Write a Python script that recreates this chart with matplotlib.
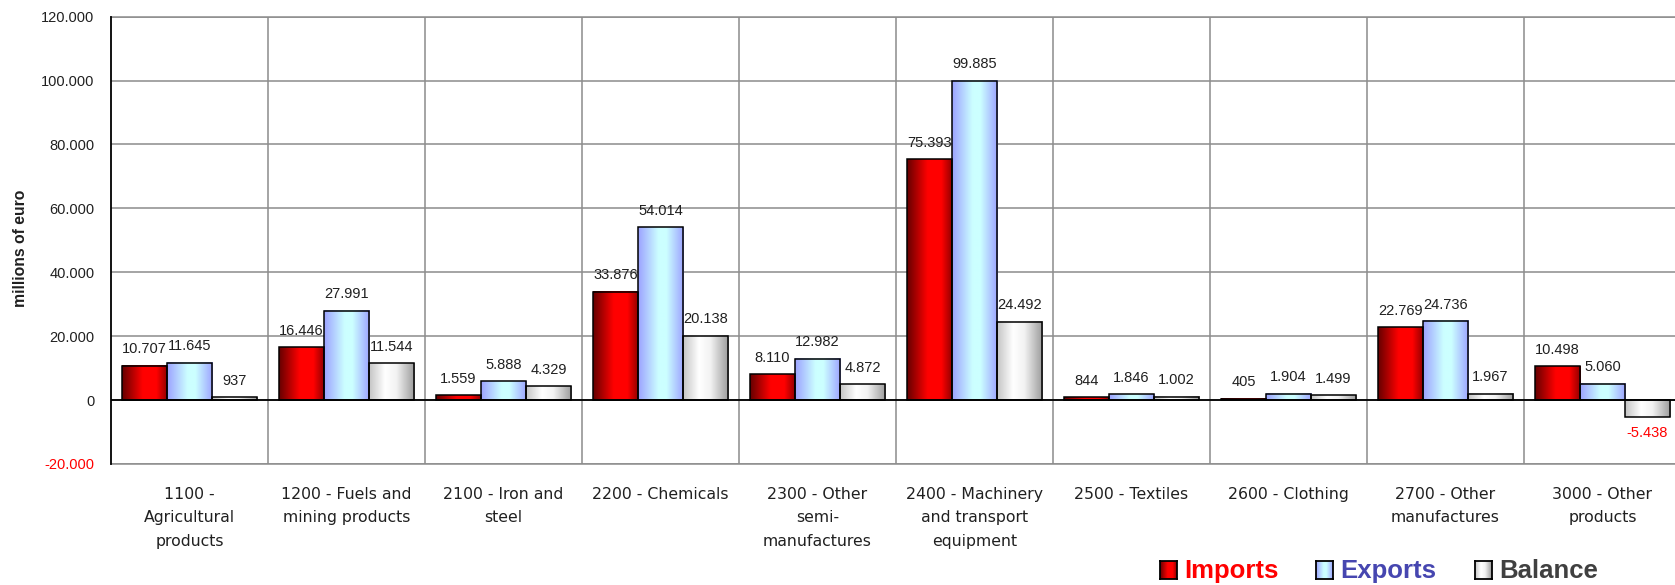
import numpy as np
import matplotlib
matplotlib.use('Agg')
import matplotlib.pyplot as plt
from matplotlib.colors import LinearSegmentedColormap

categories = ['1100 -\nAgricultural\nproducts', '1200 - Fuels and\nmining products',
              '2100 - Iron and\nsteel', '2200 - Chemicals', '2300 - Other\nsemi-\nmanufactures',
              '2400 - Machinery\nand transport\nequipment', '2500 - Textiles', '2600 - Clothing',
              '2700 - Other\nmanufactures', '3000 - Other\nproducts']
imports = [10707, 16446, 1559, 33876, 8110, 75393, 844, 405, 22769, 10498]
exports = [11645, 27991, 5888, 54014, 12982, 99885, 1846, 1904, 24736, 5060]
balance = [937, 11544, 4329, 20138, 4872, 24492, 1002, 1499, 1967, -5438]
series_names = ['Imports', 'Exports', 'Balance']
yticks = [-20000, 0, 20000, 40000, 60000, 80000, 100000, 120000]


def fmt(v):
    return f"{v:,}".replace(',', '.')


def gcmap(pos, cols):
    return LinearSegmentedColormap.from_list('g', list(zip(pos, cols)))


cmaps = [gcmap([0, 0.45, 0.75, 1], ['#650000', '#ff0000', '#ff0000', '#8a0000']),
         gcmap([0, 0.45, 0.62, 1], ['#9ca2ff', '#ccffff', '#ccffff', '#9ca2ff']),
         gcmap([0, 0.35, 0.6, 1], ['#c4c4c4', '#ffffff', '#f2f2f2', '#9a9a9a'])]
legend_colors = ['#ff0000', '#4646b0', '#404040']
grad = np.linspace(0, 1, 256).reshape(1, -1)

W, H = 1675, 585
fig = plt.figure(figsize=(W / 100, H / 100), dpi=100)
ax = fig.add_axes([111 / W, 1 - 463.9 / H, 1570 / W, 447.2 / H])

x = np.arange(len(categories))
bw = 0.287
for i, vals in enumerate([imports, exports, balance]):
    bars = ax.bar(x + (i - 1) * bw, vals, bw, facecolor='none', edgecolor='black', lw=1.1, zorder=3)
    for b, v in zip(bars, vals):
        x0 = b.get_x()
        ax.imshow(grad, extent=[x0, x0 + bw, min(0, v), max(0, v)], aspect='auto',
                  cmap=cmaps[i], interpolation='bilinear', zorder=2)
        if v >= 0:
            ax.annotate(fmt(v), (x0 + bw / 2, v), xytext=(0, 9), textcoords='offset points',
                        ha='center', va='baseline', fontsize=10.5, family='Liberation Sans',
                        color='#202020', zorder=5)
        else:
            ax.annotate(fmt(v), (x0 + bw / 2, v), xytext=(0, -6), textcoords='offset points',
                        ha='center', va='top', fontsize=10.5, family='Liberation Sans',
                        color='red', zorder=5)

ax.set_xlim(-0.5, 9.5)
ax.set_ylim(-20000, 120000)
ax.set_aspect('auto')

ax.set_yticks(yticks)
ax.set_yticklabels([fmt(v) for v in yticks], family='Liberation Sans', fontsize=10.5, color='#202020')
ax.get_yticklabels()[0].set_color('red')
ax.tick_params(axis='y', length=0, pad=12)

ax.set_xticks(x)
ax.set_xticklabels(categories, family='DejaVu Sans', fontsize=11.3, color='#202020', linespacing=1.72)
ax.set_xticks(x[:-1] + 0.5, minor=True)
ax.tick_params(axis='x', which='both', length=0, pad=16.5)

ax.set_axisbelow(True)
ax.yaxis.grid(True, color='#8c8c8c', lw=1.1)
ax.xaxis.grid(True, which='minor', color='#8c8c8c', lw=1.1)
ax.axhline(0, color='black', lw=1.3, zorder=4)
for s in ['top', 'bottom', 'right']:
    ax.spines[s].set_color('#8c8c8c')
    ax.spines[s].set_linewidth(1.1)
ax.spines['left'].set_color('black')
ax.spines['left'].set_linewidth(1.3)
ax.spines['left'].set_zorder(5)

fig.text(21 / W, 1 - 248 / H, 'millions of euro', rotation=90, ha='center', va='center',
         fontsize=11.3, fontweight='bold', family='Liberation Sans', color='#202020')

sq_x = [1160, 1316, 1475]
tx_x = [1184, 1340, 1499]
for i, name in enumerate(series_names):
    lax = fig.add_axes([sq_x[i] / W, 1 - 579 / H, 17 / W, 18 / H])
    lax.imshow(grad, aspect='auto', cmap=cmaps[i], interpolation='bilinear')
    lax.set_xticks([])
    lax.set_yticks([])
    for s in lax.spines.values():
        s.set_color('black')
        s.set_linewidth(1.3)
    fig.text(tx_x[i] / W, 1 - 578 / H, name, ha='left', va='baseline', fontsize=18.5,
             fontweight='bold', family='Liberation Sans', color=legend_colors[i])

fig.savefig('out.png', dpi=100)
